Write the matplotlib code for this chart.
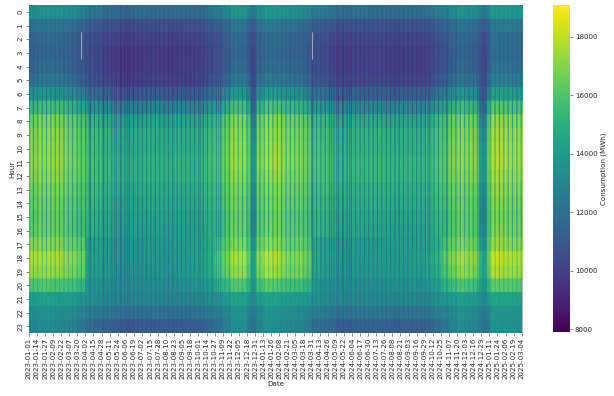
import numpy as np
import pandas as pd
import matplotlib
matplotlib.use("Agg")
import matplotlib.pyplot as plt

hours = list(range(24))
start_date = "2023-01-01"
end_date = "2025-03-04"
tick_step_days = 13

# Hourly consumption (MWh), by day type and season
winter_weekday = [13700, 12300, 11800, 11700, 11900, 12500, 14000, 15800, 17000, 17300, 17400, 17500,
                  17300, 17000, 16800, 16600, 16700, 17000, 17600, 17300, 16000, 14300, 13600, 13300]
winter_saturday = [13400, 12100, 11500, 11300, 11400, 11800, 12700, 13700, 14900, 15600, 15900, 16000,
                   15800, 15300, 15000, 14900, 15000, 15600, 16500, 16300, 15400, 14100, 13500, 13200]
winter_sunday = [13100, 11800, 11200, 11000, 11000, 11200, 11700, 12400, 13300, 14000, 14400, 14600,
                 14400, 13900, 13600, 13500, 13800, 14500, 15600, 15400, 14700, 13800, 13200, 12900]
summer_weekday = [11700, 10500, 10000, 9800, 9800, 10000, 11000, 12900, 14400, 14800, 14800, 15000,
                  15000, 14800, 14600, 14400, 14200, 14000, 13900, 13700, 13400, 13000, 12000, 11000]
summer_saturday = [11300, 10200, 9700, 9400, 9400, 9500, 10000, 11000, 12200, 12900, 13200, 13400,
                   13300, 13000, 12700, 12500, 12400, 12400, 12500, 12500, 12400, 12300, 11700, 10800]
summer_sunday = [10900, 9900, 9400, 9100, 9100, 9100, 9300, 9900, 10900, 11700, 12100, 12300,
                 12300, 11900, 11600, 11500, 11400, 11400, 11500, 11700, 11800, 11800, 11200, 10500]

# One estimate per 13-day tick interval: how close the level is to the winter / summer row above
winter_share = [0.85, 1.0, 1.0, 0.95, 0.9, 0.8, 0.6, 0.45, 0.3, 0.2, 0.15, 0.05, 0.0, 0.05, 0.1, 0.1,
                0.1, 0.05, 0.1, 0.1, 0.1, 0.2, 0.35, 0.5, 0.75, 1.05, 1.0, 0.6, 0.85, 1.1, 1.05, 0.95,
                0.9, 0.85, 0.7, 0.45, 0.4, 0.3, 0.15, 0.15, 0.2, 0.2, 0.2, 0.2, 0.15, 0.1, 0.15, 0.15,
                0.15, 0.25, 0.45, 0.6, 0.8, 1.0, 0.9, 0.8, 0.6, 1.15, 1.1, 1.1, 1.05]
evening_share = [1.0, 1.05, 1.05, 1.0, 0.95, 0.9, 0.75, 0.2, 0.15, 0.1, 0.05, 0.0, 0.0, 0.0, 0.05, 0.05,
                 0.05, 0.05, 0.1, 0.1, 0.15, 0.2, 0.3, 0.65, 0.8, 1.05, 1.05, 0.65, 0.9, 1.15, 1.05, 0.95,
                 0.9, 0.9, 0.75, 0.25, 0.15, 0.15, 0.05, 0.05, 0.1, 0.1, 0.1, 0.1, 0.1, 0.1, 0.1, 0.15,
                 0.15, 0.25, 0.35, 0.7, 0.85, 1.05, 0.95, 0.85, 0.65, 1.15, 1.1, 1.1, 1.05]

# Days drawn with the Sunday row although they are not Sundays
holiday_dates = ["2023-01-01", "2023-04-07", "2023-04-10", "2023-05-01", "2023-05-18", "2023-05-29",
                 "2023-06-08", "2023-10-03", "2023-11-01", "2023-12-23", "2023-12-24", "2023-12-25",
                 "2023-12-26", "2023-12-27", "2023-12-28", "2023-12-29", "2023-12-30", "2023-12-31",
                 "2024-01-01", "2024-03-29", "2024-04-01", "2024-05-01", "2024-05-09", "2024-05-20",
                 "2024-05-30", "2024-10-03", "2024-11-01", "2024-12-24", "2024-12-25", "2024-12-26",
                 "2024-12-27", "2024-12-28", "2024-12-29", "2024-12-30", "2024-12-31", "2025-01-01",
                 "2025-01-02", "2025-01-03", "2025-01-04", "2025-01-05"]
# Hour cells with no value (date, first hour, last hour)
missing_cells = [("2023-03-26", 2, 3), ("2024-03-31", 2, 3), ("2025-03-04", 20, 23)]

dates = pd.date_range(start_date, end_date, freq="D")
holidays = set(pd.to_datetime(holiday_dates))
matrix = np.zeros((len(hours), len(dates)))
profiles = {0: (winter_weekday, summer_weekday), 5: (winter_saturday, summer_saturday),
            6: (winter_sunday, summer_sunday)}
for col, day in enumerate(dates):
    kind = 6 if day in holidays else (day.dayofweek if day.dayofweek >= 5 else 0)
    win, sum_ = profiles[kind]
    idx = min(col // tick_step_days, len(winter_share) - 1)
    for h in hours:
        share = evening_share[idx] if 17 <= h <= 20 else winter_share[idx]
        matrix[h, col] = sum_[h] + share * (win[h] - sum_[h])
for d, h0, h1 in missing_cells:
    matrix[h0:h1 + 1, dates.get_loc(pd.Timestamp(d))] = np.nan

fig = plt.figure(figsize=(6.14, 3.96), dpi=100)
W, H = 614, 396
ax = fig.add_axes([28.5 / W, 1 - 333 / H, (522 - 28.5) / W, (333 - 5) / H])
rep = 16
shown = np.repeat(matrix, rep, axis=0)
im = ax.imshow(shown, cmap="viridis", vmin=7900, vmax=19085, aspect="auto",
               extent=(0, len(dates), len(hours), 0), interpolation="antialiased")
ink = "#262626"
ax.set_xticks(np.arange(0, len(dates), tick_step_days) + 0.5)
ax.set_xticklabels([d.strftime("%Y-%m-%d") for d in dates[::tick_step_days]],
                   rotation=90, fontsize=5.1, color=ink)
ax.set_yticks(np.array(hours) + 0.5)
ax.set_yticklabels(hours, rotation=90, va="center", fontsize=5.1, color=ink)
ax.tick_params(length=2, width=0.4, pad=1.5, color=ink)
for s in ax.spines.values():
    s.set_visible(False)
ax.set_xlabel("Date", fontsize=5.1, color=ink, labelpad=1.5)
ax.set_ylabel("Hour", fontsize=5.1, color=ink, labelpad=1.5)

cax = fig.add_axes([553 / W, 1 - 332 / H, 17 / W, 327 / H])
cb = fig.colorbar(im, cax=cax)
cb.outline.set_visible(False)
cb.set_ticks([8000, 10000, 12000, 14000, 16000, 18000])
cb.ax.tick_params(labelsize=5.1, length=2, width=0.4, pad=1.5, color=ink, labelcolor=ink)
cb.set_label("Consumption (MWh)", fontsize=5.1, color=ink, labelpad=2)

fig.savefig("out.png", dpi=100)
